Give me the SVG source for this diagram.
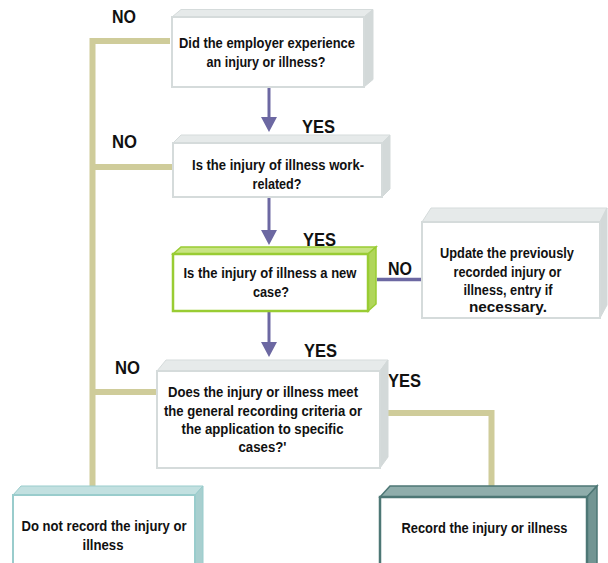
<svg xmlns="http://www.w3.org/2000/svg" width="608" height="563" viewBox="0 0 608 563">
<defs>
<style>
text{font-family:"Liberation Sans Narrow","Liberation Sans",Arial,sans-serif;font-weight:bold;fill:#111;}
.t{font-size:15.5px;text-anchor:middle;}
.lbl{font-size:19px;}
.front{fill:#ffffff;stroke:#d5dbdb;stroke-width:2;}
.btop{fill:#e6eaea;stroke:#d5dbdb;stroke-width:1;}
.bside{fill:#d3d9d9;stroke:#d3d9d9;stroke-width:1;}
.gfront{fill:#ffffff;stroke:#99cc33;stroke-width:2.5;}
.gtop{fill:#c8e483;stroke:#99cc33;stroke-width:1.5;}
.gside{fill:#b0d65a;stroke:#99cc33;stroke-width:1.5;}
.lfront{fill:#ffffff;stroke:#99cccc;stroke-width:2;}
.ltop{fill:#c2e0e0;stroke:#99cccc;stroke-width:1;}
.lside{fill:#a8cfcf;stroke:#99cccc;stroke-width:1;}
.dfront{fill:#ffffff;stroke:#4d7775;stroke-width:2.5;}
.dtop{fill:#8fadab;stroke:#4d7775;stroke-width:1.5;}
.dside{fill:#729593;stroke:#4d7775;stroke-width:1.5;}
.tan{fill:none;stroke:#cfcc9a;stroke-width:6;stroke-linejoin:miter;}
.pur{fill:none;stroke:#6c68a2;stroke-width:3;}
.head{fill:#6c68a2;}
</style>
</defs>

<g id="connectors">
<polyline class="tan" points="170,41 92.5,41 92.5,492"/>
<line class="tan" x1="92.5" y1="167" x2="174" y2="167"/>
<line class="tan" x1="92.5" y1="392" x2="158" y2="392"/>
<polyline class="tan" points="386,413 491.5,413 491.5,488"/>
<line class="pur" x1="269" y1="88" x2="269" y2="118"/>
<polygon class="head" points="261,117 277,117 269,132"/>
<line class="pur" x1="269" y1="198" x2="269" y2="231"/>
<polygon class="head" points="261,230 277,230 269,245"/>
<line class="pur" x1="269" y1="312" x2="269" y2="343"/>
<polygon class="head" points="261,342 277,342 269,357"/>
<line class="pur" x1="377" y1="279.5" x2="424" y2="279.5" style="stroke-width:3.5"/>
</g>

<g id="labels">
<text class="lbl" x="112" y="23" textLength="24" lengthAdjust="spacingAndGlyphs">NO</text>
<text class="lbl" x="302" y="133" textLength="33" lengthAdjust="spacingAndGlyphs">YES</text>
<text class="lbl" x="112" y="148" textLength="25" lengthAdjust="spacingAndGlyphs">NO</text>
<text class="lbl" x="303" y="246" textLength="33" lengthAdjust="spacingAndGlyphs">YES</text>
<text class="lbl" x="388" y="275" textLength="24" lengthAdjust="spacingAndGlyphs">NO</text>
<text class="lbl" x="304" y="357" textLength="33" lengthAdjust="spacingAndGlyphs">YES</text>
<text class="lbl" x="115" y="374" textLength="25" lengthAdjust="spacingAndGlyphs">NO</text>
<text class="lbl" x="388" y="387" textLength="33" lengthAdjust="spacingAndGlyphs">YES</text>
</g>

<g id="q1">
<polygon class="btop" points="172,17 181,9.5 373,9.5 364,17"/>
<polygon class="bside" points="364,17 373,9.5 373,79.5 364,87"/>
<rect class="front" x="172" y="17" width="192" height="70"/>
<text class="t" x="267" y="48" textLength="176" lengthAdjust="spacingAndGlyphs">Did the employer experience</text>
<text class="t" x="266" y="67" textLength="119" lengthAdjust="spacingAndGlyphs">an injury or illness?</text>
</g>

<g id="q2">
<polygon class="btop" points="173,143 181,135 390,135 382,143"/>
<polygon class="bside" points="382,143 390,135 390,189 382,197"/>
<rect class="front" x="173" y="143" width="209" height="54"/>
<text class="t" x="278" y="170" textLength="172" lengthAdjust="spacingAndGlyphs">Is the injury of illness work-</text>
<text class="t" x="277" y="189" textLength="49" lengthAdjust="spacingAndGlyphs">related?</text>
</g>

<g id="q3">
<polygon class="gtop" points="173,254 181,247 376,247 368,254"/>
<polygon class="gside" points="368,254 376,247 376,304 368,311"/>
<rect class="gfront" x="173" y="254" width="195" height="57"/>
<text class="t" x="270" y="278" textLength="173" lengthAdjust="spacingAndGlyphs">Is the injury of illness a new</text>
<text class="t" x="271" y="297" textLength="36" lengthAdjust="spacingAndGlyphs">case?</text>
</g>

<g id="update">
<polygon class="btop" points="422,222 431,208 607,208 600,222"/>
<polygon class="bside" points="600,222 607,208 607,305 600,318"/>
<rect class="front" x="422" y="222" width="178" height="96"/>
<text class="t" x="507" y="258" textLength="134" lengthAdjust="spacingAndGlyphs">Update the previously</text>
<text class="t" x="507.5" y="277" textLength="108" lengthAdjust="spacingAndGlyphs">recorded injury or</text>
<text class="t" x="508" y="295" textLength="89" lengthAdjust="spacingAndGlyphs">illness, entry if</text>
<text class="t" x="508" y="312" textLength="78" lengthAdjust="spacingAndGlyphs">necessary.</text>
</g>

<g id="q4">
<polygon class="btop" points="157,371 166,360 388,360 380,371"/>
<polygon class="bside" points="380,371 388,360 388,457 380,468"/>
<rect class="front" x="157" y="371" width="223" height="97"/>
<text class="t" x="263" y="397" textLength="190" lengthAdjust="spacingAndGlyphs">Does the injury or illness meet</text>
<text class="t" x="263" y="416" textLength="198" lengthAdjust="spacingAndGlyphs">the general recording criteria or</text>
<text class="t" x="262.5" y="434" textLength="162" lengthAdjust="spacingAndGlyphs">the application to specific</text>
<text class="t" x="262.5" y="452" textLength="48" lengthAdjust="spacingAndGlyphs">cases?'</text>
</g>

<g id="norecord">
<polygon class="ltop" points="13,495 21,486 203,486 195,495"/>
<polygon class="lside" points="195,495 203,486 203,570 195,575"/>
<rect class="lfront" x="13" y="495" width="182" height="80"/>
<text class="t" x="104" y="531" textLength="165" lengthAdjust="spacingAndGlyphs">Do not record the injury or</text>
<text class="t" x="103" y="550" textLength="41" lengthAdjust="spacingAndGlyphs">illness</text>
</g>

<g id="record">
<polygon class="dtop" points="380,497 390,486 597,486 587,497"/>
<polygon class="dside" points="587,497 597,486 597,570 587,575"/>
<rect class="dfront" x="380" y="497" width="207" height="80"/>
<text class="t" x="484.5" y="533" textLength="166" lengthAdjust="spacingAndGlyphs">Record the injury or illness</text>
</g>
</svg>
